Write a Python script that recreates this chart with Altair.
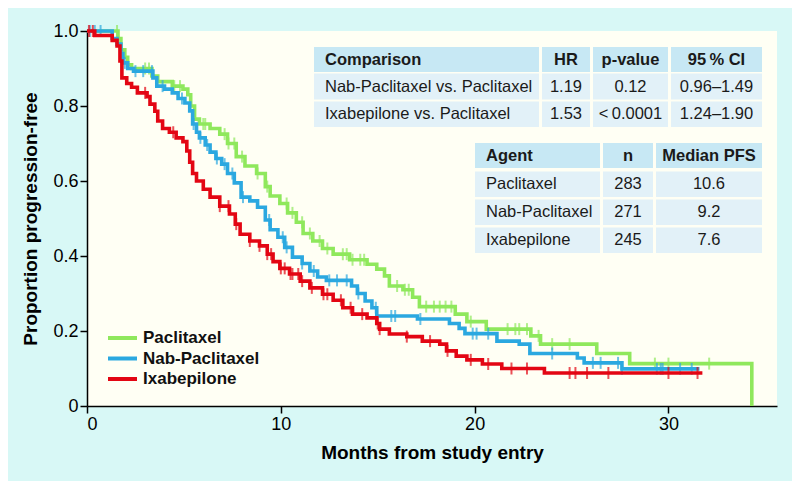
import altair as alt
import pandas as pd
import numpy as np

# ---------------- data ----------------
agents = ["Paclitaxel", "Nab-Paclitaxel", "Ixabepilone"]
colors = ["#8fe85c", "#2ba8e0", "#e30613"]

pac_t = [0, 1.6, 1.75, 1.95, 2.1, 2.3, 3.35, 3.65, 4.4, 4.95, 5.2, 5.35, 5.55, 5.8, 6.35, 6.85,
         7.25, 7.7, 8.15, 8.75, 9.2, 9.45, 9.95, 10.35, 10.8, 11.15, 11.65, 12.15, 12.7, 13.55,
         14.45, 14.95, 15.35, 15.6, 16.3, 16.8, 17.15, 19.0, 19.6, 20.6, 22.9, 23.4, 26.3, 28.0, 34.3]
pac_s = [1.0, 0.98, 0.95, 0.93, 0.91, 0.90, 0.88, 0.865, 0.853, 0.845, 0.83, 0.80, 0.765, 0.752,
         0.74, 0.725, 0.70, 0.665, 0.64, 0.62, 0.585, 0.56, 0.54, 0.515, 0.49, 0.46, 0.44, 0.42,
         0.405, 0.39, 0.378, 0.365, 0.347, 0.32, 0.31, 0.29, 0.265, 0.245, 0.225, 0.205, 0.187,
         0.165, 0.14, 0.113, 0.0]
pac_c = [1.55, 3.0, 3.2, 4.5, 4.8, 6.0, 6.1, 7.1, 7.3, 7.6, 8.0, 8.8, 9.3, 10.3, 10.6, 11.1, 11.5,
         12.0, 12.4, 13.2, 13.4, 13.7, 14.1, 14.3, 16.0, 16.4, 16.6, 17.5, 17.9, 18.2, 18.5, 18.8,
         19.8, 21.7, 22.1, 22.3, 22.7, 23.3, 24.0, 24.9, 29.3, 30.0, 32.1]

nab_t = [0, 1.3, 1.55, 1.75, 1.85, 2.1, 2.4, 3.4, 3.6, 4.0, 4.4, 4.7, 5.05, 5.3, 5.45, 5.65, 5.8,
         6.1, 6.35, 6.65, 6.95, 7.25, 7.6, 7.95, 8.4, 8.8, 9.2, 9.45, 9.85, 10.2, 10.6, 11.1, 11.5,
         11.9, 12.35, 13.65, 13.95, 14.35, 14.7, 14.95, 17.05, 18.7, 19.2, 19.5, 21.15, 22.3,
         22.85, 25.3, 25.65, 27.6, 31.6]
nab_s = [1.0, 0.98, 0.965, 0.94, 0.915, 0.90, 0.893, 0.875, 0.853, 0.845, 0.835, 0.82, 0.808,
         0.787, 0.752, 0.73, 0.715, 0.696, 0.677, 0.66, 0.645, 0.62, 0.595, 0.557, 0.547, 0.53,
         0.496, 0.47, 0.45, 0.423, 0.397, 0.38, 0.36, 0.344, 0.335, 0.32, 0.30, 0.28, 0.262, 0.24,
         0.232, 0.22, 0.207, 0.193, 0.173, 0.165, 0.14, 0.128, 0.115, 0.099, 0.099]
nab_c = [0.15, 0.4, 0.7, 1.95, 2.5, 2.9, 3.35, 3.9, 4.9, 5.5, 5.85, 6.2, 6.7, 7.1, 7.5, 8.05, 9.4,
         10.1, 10.3, 11.1, 11.7, 12.5, 12.9, 13.4, 14.0, 14.9, 15.7, 15.9, 17.2, 19.9, 20.1, 20.7,
         24.0, 26.1, 26.5, 27.4, 27.6, 29.4, 29.6, 29.7, 30.6, 31.2]

ixa_t = [0, 0.4, 1.3, 1.55, 1.7, 1.8, 2.05, 2.3, 2.6, 3.1, 3.25, 3.5, 3.65, 3.9, 4.25, 4.6, 4.95,
         5.15, 5.3, 5.45, 5.65, 6.0, 6.35, 6.85, 7.35, 7.65, 7.9, 8.4, 8.9, 9.3, 9.6, 9.95, 10.45,
         11.0, 11.5, 12.15, 12.7, 13.2, 13.7, 14.45, 14.95, 15.1, 15.6, 16.5, 17.3, 18.2, 18.55,
         19.05, 19.6, 20.4, 21.4, 23.6, 31.75]
ixa_s = [1.0, 0.988, 0.975, 0.96, 0.92, 0.875, 0.86, 0.85, 0.835, 0.825, 0.805, 0.786, 0.76, 0.74,
         0.73, 0.715, 0.705, 0.68, 0.65, 0.62, 0.60, 0.578, 0.557, 0.533, 0.512, 0.485, 0.458,
         0.44, 0.427, 0.405, 0.385, 0.367, 0.352, 0.333, 0.315, 0.298, 0.282, 0.262, 0.245, 0.235,
         0.22, 0.205, 0.192, 0.185, 0.173, 0.165, 0.147, 0.133, 0.123, 0.112, 0.10, 0.088, 0.088]
ixa_c = [0.1, 0.3, 3.0, 4.45, 6.85, 7.3, 7.7, 8.4, 8.9, 9.3, 9.5, 10.0, 10.2, 10.5, 10.6, 10.9,
         11.1, 11.6, 12.2, 12.4, 13.1, 13.6, 14.2, 15.0, 15.1, 16.5, 17.7, 18.6, 19.8, 20.7, 21.9,
         22.7, 24.9, 25.2, 25.8, 26.9, 30.0, 31.5]

cmp_header = ["Comparison", "HR", "p-value", "95\u2009% CI"]
cmp_names = ["Nab-Paclitaxel vs. Paclitaxel", "Ixabepilone vs. Paclitaxel"]
cmp_hr = ["1.19", "1.53"]
cmp_p = ["0.12", "<\u20090.0001"]
cmp_ci = ["0.96\u20131.49", "1.24\u20131.90"]

agent_header = ["Agent", "n", "Median PFS"]
agent_n = ["283", "271", "245"]
agent_median = ["10.6", "9.2", "7.6"]

# ---------------- build tables ----------------
curves = []
censors = []
for name, ts, ss, cs in [("Paclitaxel", pac_t, pac_s, pac_c),
                         ("Nab-Paclitaxel", nab_t, nab_s, nab_c),
                         ("Ixabepilone", ixa_t, ixa_s, ixa_c)]:
    for t, s in zip(ts, ss):
        curves.append({"agent": name, "t": t, "s": s})
    ta = np.array(ts)
    sa = np.array(ss)
    for c in cs:
        i = int(np.searchsorted(ta, c, side="right")) - 1
        censors.append({"agent": name, "t": c, "s": float(sa[i])})
curves = pd.DataFrame(curves)
censors = pd.DataFrame(censors)

# table layout (pixels relative to plot origin)
t1_cols = [(227, 452), (455, 503), (506, 581), (584, 675)]
t1_rows = [(16, 41), (42.5, 68.5), (70.5, 96)]
t2_cols = [(388, 513), (516, 566), (569, 675)]
t2_rows = [(112, 137), (140.5, 166), (168.5, 194), (196.5, 222)]

cells = []
def add_table(cols, rows, grid):
    for r, (y1, y2) in enumerate(rows):
        for c, (x1, x2) in enumerate(cols):
            left = (c == 0)
            cells.append({
                "x": x1, "x2": x2, "y": y1, "y2": y2,
                "ym": (y1 + y2) / 2,
                "xt": x1 + 11 if left else (x1 + x2) / 2,
                "text": grid[r][c],
                "kind": "header" if r == 0 else "body",
                "al": "left" if left else "center",
            })

grid1 = [cmp_header] + [[cmp_names[i], cmp_hr[i], cmp_p[i], cmp_ci[i]] for i in range(2)]
grid2 = [agent_header] + [[agents[i], agent_n[i], agent_median[i]] for i in range(3)]
add_table(t1_cols, t1_rows, grid1)
add_table(t2_cols, t2_rows, grid2)
cells = pd.DataFrame(cells)

# manual legend layout (pixels relative to plot origin)
legend = pd.DataFrame({
    "agent": agents,
    "x1": [21, 21, 21], "x2": [50, 50, 50], "xt": [56, 56, 56],
    "y": [307, 327.5, 348],
})

# ---------------- chart ----------------
FONT = "Liberation Sans"
color_scale = alt.Scale(domain=agents, range=colors)
xs = alt.Scale(domain=[0, 35.6], nice=False)
ys = alt.Scale(domain=[0, 1], nice=False)

x_enc = alt.X("t:Q", scale=xs,
              axis=alt.Axis(values=[0, 10, 20, 30], title="Months from study entry",
                            titlePadding=10))
y_enc = alt.Y("s:Q", scale=ys,
              axis=alt.Axis(values=[0, 0.2, 0.4, 0.6, 0.8, 1.0],
                            labelExpr="datum.value == 0 ? '0' : format(datum.value, '.1f')",
                            title="Proportion progression-free", titlePadding=12))

layers = []
for i, name in enumerate(agents):
    d = curves[curves.agent == name]
    line = alt.Chart(d).mark_line(interpolate="step-after", strokeWidth=3.6).encode(
        x=x_enc, y=y_enc,
        color=alt.Color("agent:N", scale=color_scale, legend=None),
        order="t:Q",
    )
    cd = censors[censors.agent == name]
    ticks = alt.Chart(cd).mark_tick(orient="vertical", size=12, thickness=2).encode(
        x=alt.X("t:Q", scale=xs), y=alt.Y("s:Q", scale=ys),
        color=alt.Color("agent:N", scale=color_scale, legend=None),
    )
    layers += [line, ticks]

rect_header = alt.Chart(cells[cells.kind == "header"]).mark_rect(color="#c7e8f4").encode(
    x=alt.X("x:Q", scale=None), x2="x2:Q", y=alt.Y("y:Q", scale=None), y2="y2:Q")
rect_body = alt.Chart(cells[cells.kind == "body"]).mark_rect(color="#e2f1f8").encode(
    x=alt.X("x:Q", scale=None), x2="x2:Q", y=alt.Y("y:Q", scale=None), y2="y2:Q")

texts = []
for kind, weight in [("header", "bold"), ("body", "normal")]:
    for al in ["left", "center"]:
        d = cells[(cells.kind == kind) & (cells.al == al)]
        texts.append(alt.Chart(d).mark_text(align=al, baseline="middle", font=FONT,
                                            fontSize=16.5, fontWeight=weight,
                                            color="#1a1a1a").encode(
            x=alt.X("xt:Q", scale=None), y=alt.Y("ym:Q", scale=None), text="text:N"))

leg_lines = alt.Chart(legend).mark_rule(strokeWidth=4).encode(
    x=alt.X("x1:Q", scale=None), x2="x2:Q", y=alt.Y("y:Q", scale=None),
    color=alt.Color("agent:N", scale=color_scale, legend=None))
leg_text = alt.Chart(legend).mark_text(align="left", baseline="middle", font=FONT,
                                       fontSize=17, fontWeight="bold", color="#111111").encode(
    x=alt.X("xt:Q", scale=None), y=alt.Y("y:Q", scale=None), text="agent:N")

chart = alt.layer(*layers, rect_header, rect_body, *texts, leg_lines, leg_text).properties(
    width=690, height=375,
    background="#d8f8f6",
    padding={"left": 79, "top": 23, "right": 15, "bottom": 75},
    autosize=alt.AutoSizeParams(type="none"),
).configure_view(fill="#fffff4", stroke=None).configure_axis(
    grid=False, domainColor="black", domainWidth=1.5, tickColor="black", tickWidth=1.5,
    tickSize=7, labelFont=FONT, labelFontSize=18, labelColor="black",
    titleFont=FONT, titleFontSize=19, titleFontWeight="bold", titleColor="black",
)

chart.save("out.html", embed_options={"renderer": "svg", "actions": False})
